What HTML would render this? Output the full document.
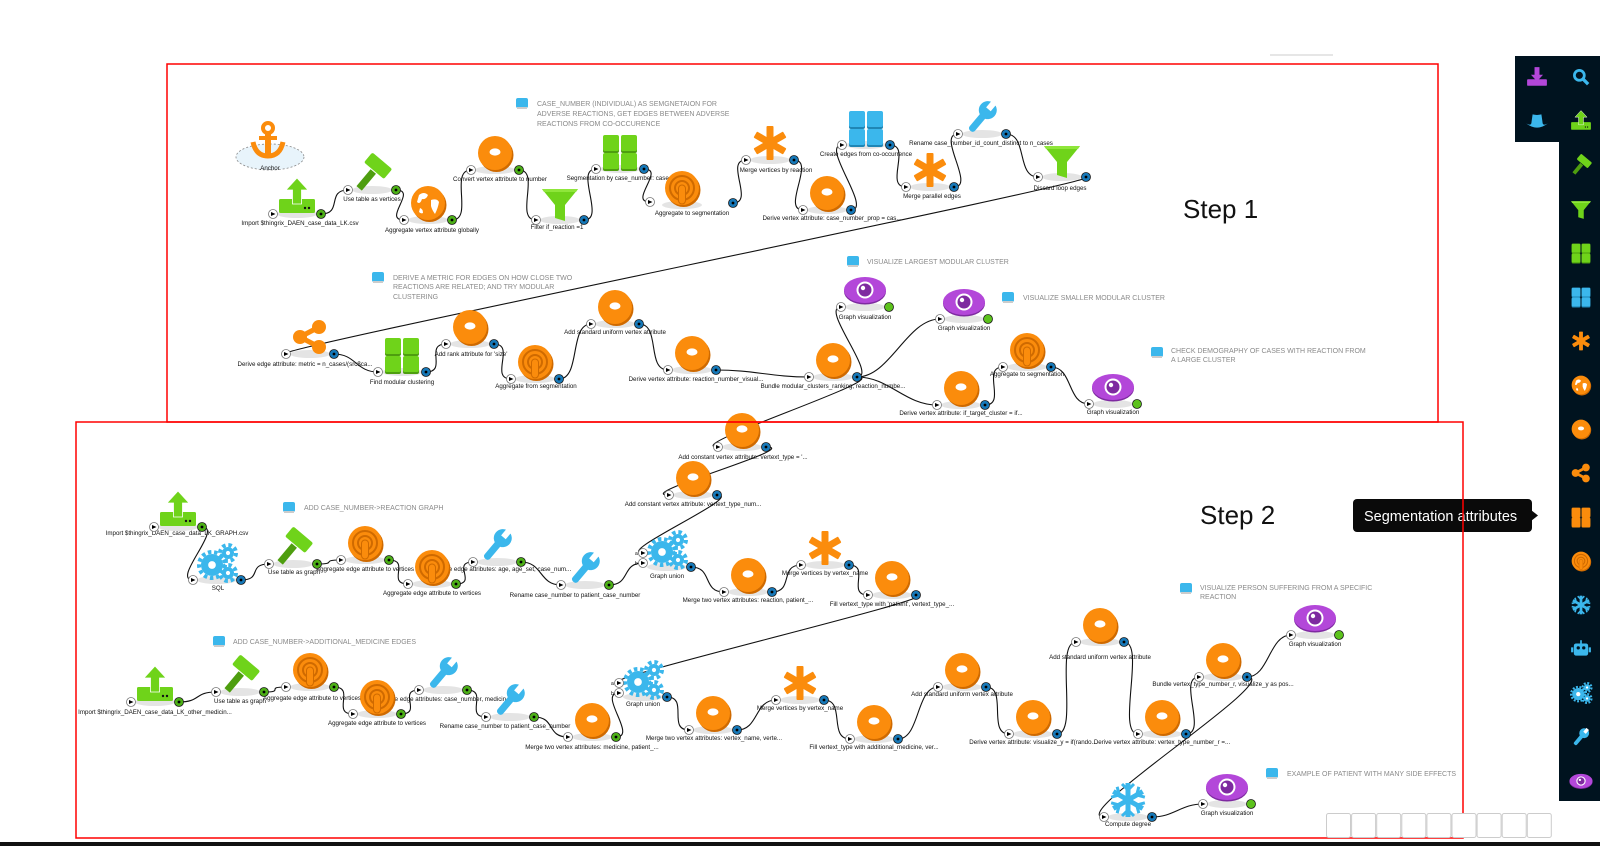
<!DOCTYPE html>
<html><head><meta charset="utf-8">
<style>
html,body{margin:0;padding:0;background:#fff;width:1600px;height:846px;overflow:hidden}
svg{display:block}
.l{font-family:"Liberation Sans",sans-serif;font-size:6.2px;fill:#111;text-anchor:middle}
.c{font-family:"Liberation Sans",sans-serif;font-size:7px;fill:#8a8a8a}
.s{font-family:"Liberation Sans",sans-serif;font-size:26px;fill:#111}
</style></head><body>
<svg id="sv" width="1600" height="846" viewBox="0 0 1600 846" xmlns="http://www.w3.org/2000/svg">
<line x1="1270" y1="55" x2="1333" y2="55" stroke="#e6e6e6" stroke-width="2"/>
<g id="edges"></g>
<g id="shadows"></g>
<g id="labels">
<text class="l" x="270" y="170">Anchor</text>
<text class="l" x="300" y="225">Import $thingrix_DAEN_case_data_LK.csv</text>
<text class="l" x="372" y="201">Use table as vertices</text>
<text class="l" x="432" y="232">Aggregate vertex attribute globally</text>
<text class="l" x="500" y="181">Convert vertex attribute to number</text>
<text class="l" x="557" y="229">Filter if_reaction =1</text>
<text class="l" x="622" y="180">Segmentation by case_number: case_...</text>
<text class="l" x="692" y="215">Aggregate to segmentation</text>
<text class="l" x="776" y="172">Merge vertices by reaction</text>
<text class="l" x="832" y="220">Derive vertex attribute: case_number_prop = cas...</text>
<text class="l" x="866" y="156">Create edges from co-occurrence</text>
<text class="l" x="932" y="198">Merge parallel edges</text>
<text class="l" x="981" y="145">Rename case_number_id_count_distinct to n_cases</text>
<text class="l" x="1060" y="190">Discard loop edges</text>

<text class="l" x="305" y="366">Derive edge attribute: metric = n_cases/(src$ca...</text>
<text class="l" x="402" y="384">Find modular clustering</text>
<text class="l" x="471" y="356">Add rank attribute for 'size'</text>
<text class="l" x="536" y="388">Aggregate from segmentation</text>
<text class="l" x="615" y="334">Add standard uniform vertex attribute</text>
<text class="l" x="696" y="381">Derive vertex attribute: reaction_number_visual...</text>
<text class="l" x="865" y="319">Graph visualization</text>
<text class="l" x="964" y="330">Graph visualization</text>
<text class="l" x="1113" y="414">Graph visualization</text>
<text class="l" x="833" y="388">Bundle modular_clusters_ranking, reaction_numbe...</text>
<text class="l" x="961" y="415">Derive vertex attribute: if_target_cluster = if...</text>
<text class="l" x="1027" y="376">Aggregate to segmentation</text>

<text class="l" x="743" y="459">Add constant vertex attribute: vertext_type = '...</text>
<text class="l" x="693" y="506">Add constant vertex attribute: vertext_type_num...</text>
<text class="l" x="177" y="535">Import $thingrix_DAEN_case_data_LK_GRAPH.csv</text>
<text class="l" x="218" y="590">SQL</text>
<text class="l" x="294" y="574">Use table as graph</text>
<text class="l" x="365" y="571">Aggregate edge attribute to vertices</text>
<text class="l" x="432" y="595">Aggregate edge attribute to vertices</text>
<text class="l" x="500" y="571">Rename edge attributes: age, age_set, case_num...</text>
<text class="l" x="575" y="597">Rename case_number to patient_case_number</text>
<text class="l" x="667" y="578">Graph union</text>
<text class="l" x="748" y="602">Merge two vertex attributes: reaction, patient_...</text>
<text class="l" x="825" y="575">Merge vertices by vertex_name</text>
<text class="l" x="892" y="606">Fill vertext_type with 'patient', vertext_type_...</text>

<text class="l" x="155" y="714">Import $thingrix_DAEN_case_data_LK_other_medicin...</text>
<text class="l" x="240" y="703">Use table as graph</text>
<text class="l" x="312" y="700">Aggregate edge attribute to vertices</text>
<text class="l" x="377" y="725">Aggregate edge attribute to vertices</text>
<text class="l" x="443" y="701">Rename edge attributes: case_number, medicin...</text>
<text class="l" x="505" y="728">Rename case_number to patient_case_number</text>
<text class="l" x="592" y="749">Merge two vertex attributes: medicine, patient_...</text>
<text class="l" x="643" y="706">Graph union</text>
<text class="l" x="714" y="740">Merge two vertex attributes: vertex_name, verte...</text>
<text class="l" x="800" y="710">Merge vertices by vertex_name</text>
<text class="l" x="874" y="749">Fill vertext_type with additional_medicine, ver...</text>
<text class="l" x="962" y="696">Add standard uniform vertex attribute</text>
<text class="l" x="1033" y="744">Derive vertex attribute: visualize_y = if(rando...</text>
<text class="l" x="1100" y="659">Add standard uniform vertex attribute</text>
<text class="l" x="1162" y="744">Derive vertex attribute: vertex_type_number_r =...</text>
<text class="l" x="1223" y="686">Bundle vertex_type_number_r, visualize_y as pos...</text>
<text class="l" x="1315" y="646">Graph visualization</text>
<text class="l" x="1128" y="826">Compute degree</text>
<text class="l" x="1227" y="815">Graph visualization</text>
</g>
<g id="comments">
<text class="c" x="537" y="106">CASE_NUMBER (INDIVIDUAL) AS SEMGNETAION FOR</text>
<text class="c" x="537" y="116">ADVERSE REACTIONS, GET EDGES BETWEEN ADVERSE</text>
<text class="c" x="537" y="126">REACTIONS FROM CO-OCCURENCE</text>
<text class="c" x="393" y="280">DERIVE A METRIC FOR EDGES ON HOW CLOSE TWO</text>
<text class="c" x="393" y="289">REACTIONS ARE RELATED; AND TRY MODULAR</text>
<text class="c" x="393" y="299">CLUSTERING</text>
<text class="c" x="867" y="264">VISUALIZE LARGEST MODULAR CLUSTER</text>
<text class="c" x="1023" y="300">VISUALIZE SMALLER MODULAR CLUSTER</text>
<text class="c" x="1171" y="353">CHECK DEMOGRAPHY OF CASES WITH REACTION FROM</text>
<text class="c" x="1171" y="362">A LARGE CLUSTER</text>
<text class="c" x="304" y="510">ADD CASE_NUMBER-&gt;REACTION GRAPH</text>
<text class="c" x="233" y="644">ADD CASE_NUMBER-&gt;ADDITIONAL_MEDICINE EDGES</text>
<text class="c" x="1200" y="590">VISUALIZE PERSON SUFFERING FROM A SPECIFIC</text>
<text class="c" x="1200" y="599">REACTION</text>
<text class="c" x="1287" y="776">EXAMPLE OF PATIENT WITH MANY SIDE EFFECTS</text>
</g>
<g id="icons"></g>
<g id="ports"></g>
<text class="s" x="1183" y="218">Step 1</text>
<text class="s" x="1200" y="524">Step 2</text>
<rect x="167" y="64" width="1271" height="358" fill="none" stroke="#f00" stroke-width="1.5"/>
<rect x="76" y="422" width="1387" height="416" fill="none" stroke="#f00" stroke-width="1.5"/>
<g id="btns"></g>
<rect x="1515" y="56" width="85" height="86" fill="#00131f"/>
<rect x="1559" y="56" width="41" height="745" fill="#00131f"/>
<g id="side"></g>
<rect x="1353" y="499" width="179" height="33" rx="4" fill="#0a0a0a"/>
<polygon points="1531,510 1538,515.5 1531,521" fill="#0a0a0a"/>
<text x="1364" y="521" style="font-family:'Liberation Sans',sans-serif;font-size:14.5px;fill:#fff">Segmentation attributes</text>
<line x1="1463" y1="499" x2="1463" y2="532" stroke="#f00" stroke-width="1.5"/>
<rect x="0" y="842" width="1600" height="4" fill="#111"/>
</svg>
<script>
var OR='#fb8c0c',ORD='#cf6a00',GR='#6fd31a',GRD='#4e9e0f',BL='#3bb7ec',BLD='#1f86b5',PU='#b347d9',PUD='#7e2aa0';
var I={
donut:function(){return '<circle r="17" cx="1.5" cy="2" fill="'+ORD+'"/><circle r="17" fill="'+OR+'"/><ellipse rx="5.5" ry="3.6" cy="-1" fill="#fff"/>'},
pod:function(){return '<circle r="17" cx="1.5" cy="2" fill="'+ORD+'"/><circle r="17" fill="'+OR+'"/><circle r="12" fill="none" stroke="'+ORD+'" stroke-width="2"/><circle r="7" fill="none" stroke="'+ORD+'" stroke-width="2"/><rect x="-3.5" y="-3" width="7" height="19" rx="3.5" fill="'+OR+'" stroke="'+ORD+'" stroke-width="1"/>'},
aster:function(){var s='';[0,60,120].forEach(function(a){s+='<rect x="-3.5" y="-17" width="7" height="34" rx="1" fill="'+OR+'" transform="rotate('+a+')"/>'});return s},
ggrid:function(){return grid(GR,GRD)},bgrid:function(){return grid(BL,BLD)},
funnel:function(){return '<polygon points="-18,-14 18,-14 5,2 5,18 -5,15 -5,2" fill="'+GR+'"/><polygon points="-18,-14 18,-14 16,-11 -16,-11" fill="#8fe63a"/>'},
upload:function(){return '<rect x="-18" y="2" width="36" height="14" rx="1.5" fill="'+GR+'"/><polygon points="0,-19 11,-7 4.5,-7 4.5,7 -4.5,7 -4.5,-7 -11,-7" fill="'+GR+'" stroke="#fff" stroke-width="0.8"/><circle cx="8" cy="11" r="1.2" fill="#111"/><circle cx="12" cy="11" r="1.2" fill="#111"/>'},
gavel:function(){return '<g transform="rotate(40)"><rect x="-3.5" y="-2" width="7" height="22" fill="'+GRD+'"/><rect x="-13" y="-16" width="26" height="13" rx="2" fill="'+GR+'"/></g>'},
globe:function(){return '<circle r="17" cx="1.5" cy="2" fill="'+ORD+'"/><circle r="17" fill="'+OR+'"/><path d="M-9,-8 q5,-4 9,0 q-2,5 -6,4 q-2,6 -5,3 z M3,-3 q6,-2 8,2 q-1,6 -4,12 q-3,-4 -4,-8 z M-8,5 q3,1 3,5 q-2,1 -4,-1z" fill="#fff"/>'},
wrench:function(){return '<g transform="rotate(40)"><rect x="-3.5" y="-6" width="7" height="24" rx="3" fill="'+BL+'"/><circle cy="-9" r="9" fill="'+BL+'"/><rect x="-3" y="-19" width="6" height="9" fill="#fff"/></g>'},
eye:function(){return '<ellipse rx="21" ry="13" cy="1.5" fill="'+PUD+'"/><ellipse rx="21" ry="13" fill="'+PU+'"/><circle r="8.5" fill="#fff"/><circle r="6.5" fill="'+PUD+'"/><circle cx="-2" cy="-2" r="2.2" fill="#fff"/>'},
cogs:function(){return cog(-5,2,11,BL)+cog(11,-10,6,BL)+cog(11,10,6,BL)},
share:function(){return '<line x1="-10" y1="0" x2="9" y2="-10" stroke="'+OR+'" stroke-width="5"/><line x1="-10" y1="0" x2="9" y2="10" stroke="'+OR+'" stroke-width="5"/><circle cx="-10" r="7" fill="'+OR+'"/><circle cx="9" cy="-10" r="7" fill="'+OR+'"/><circle cx="9" cy="10" r="7" fill="'+OR+'"/>'},
snow:function(){var s='';[0,60,120].forEach(function(a){s+='<g transform="rotate('+a+')"><rect x="-2.5" y="-17" width="5" height="34" fill="'+BL+'"/><path d="M-6,-16 L0,-10 L6,-16 M-6,16 L0,10 L6,16" stroke="'+BL+'" stroke-width="3" fill="none"/></g>'});return s+'<circle r="5" fill="'+BL+'"/>'},
anchor:function(){return '<circle cy="-12" r="5" fill="none" stroke="'+OR+'" stroke-width="4"/><rect x="-3" y="-7" width="6" height="22" fill="'+OR+'"/><rect x="-9" y="-4" width="18" height="4" fill="'+OR+'"/><path d="M-15,2 Q-12,16 0,16 Q12,16 15,2" fill="none" stroke="'+OR+'" stroke-width="5"/>'},
search:function(){return '<circle cx="-3" cy="-3" r="9" fill="none" stroke="'+BL+'" stroke-width="5"/><line x1="4" y1="4" x2="13" y2="13" stroke="'+BL+'" stroke-width="6"/>'},
download:function(){return '<rect x="-18" y="4" width="36" height="12" rx="1.5" fill="'+PU+'"/><polygon points="0,8 11,-4 4.5,-4 4.5,-18 -4.5,-18 -4.5,-4 -11,-4" fill="'+PU+'"/>'},
hat:function(){return '<path d="M-20,4 Q0,20 20,4 Q10,10 10,2 L8,-12 Q0,-10 -8,-12 L-10,2 Q-10,10 -20,4z" fill="'+BL+'"/>'},
robot:function(){return '<rect x="-13" y="-10" width="26" height="22" rx="4" fill="'+BL+'"/><rect x="-18" y="-3" width="4" height="9" fill="'+BL+'"/><rect x="14" y="-3" width="4" height="9" fill="'+BL+'"/><circle cx="-5" cy="-2" r="3" fill="#00131f"/><circle cx="5" cy="-2" r="3" fill="#00131f"/><rect x="-1.5" y="-16" width="3" height="6" fill="'+BL+'"/>'},
ogrid:function(){return grid(OR,OR)}
};
function grid(c,d){var s='';[[-17,-17],[1,-17],[-17,1],[1,1]].forEach(function(p){s+='<rect x="'+p[0]+'" y="'+(p[1]+2)+'" width="16" height="16" rx="2" fill="'+d+'"/><rect x="'+p[0]+'" y="'+p[1]+'" width="16" height="16" rx="2" fill="'+c+'"/>'});return s}
function cog(x,y,r,c){return '<circle cx="'+x+'" cy="'+y+'" r="'+(r+2)+'" fill="none" stroke="'+c+'" stroke-width="4" stroke-dasharray="3.5 2.8"/><circle cx="'+x+'" cy="'+y+'" r="'+r+'" fill="'+c+'"/><circle cx="'+x+'" cy="'+y+'" r="'+(r*0.35)+'" fill="#fff"/>'}
var N={
a1:['upload',297,197,'g'],a2:['gavel',372,173,'g'],a3:['globe',428,203,'g'],a4:['donut',495,153,'g'],a5:['funnel',560,203],a6:['ggrid',620,152],a7:['pod',682,188,null,[650,202],[733,203]],a8:['aster',770,143],a9:['donut',827,193],a10:['bgrid',866,128],a11:['aster',930,170],a12:['wrench',982,117],a13:['funnel',1062,160],
b1:['share',310,337],b2:['ggrid',402,355],b3:['donut',470,327],b4:['pod',535,362],b5:['donut',615,307],b6:['donut',692,353],b7:['donut',833,360],b8:['eye',865,290,'e'],b9:['eye',964,302,'e'],b10:['donut',961,388],b11:['pod',1027,350],b12:['eye',1113,387,'e'],
c1:['donut',742,430],c2:['donut',693,478],
d1:['upload',178,510,'g'],d2:['cogs',217,563],d3:['gavel',293,547,'g'],d4:['pod',365,543,'g'],d5:['pod',432,567,'g'],d6:['wrench',497,545,'g'],d7:['wrench',585,568,'g'],d8:['cogs',667,550,null,null,null,1],d9:['donut',748,575],d10:['aster',825,548],d11:['donut',892,578],
e1:['upload',155,685,'g'],e2:['gavel',240,675,'g'],e3:['pod',310,670,'g'],e4:['pod',377,697,'g'],e5:['wrench',443,673,'g'],e6:['wrench',510,700,'g'],e7:['donut',592,720,'g'],e8:['cogs',643,680,null,null,null,1],e9:['donut',713,713],e10:['aster',800,683],e11:['donut',874,722],e12:['donut',962,670],e13:['donut',1033,717],e14:['donut',1100,625],e15:['donut',1162,717],e16:['donut',1223,660],e17:['eye',1315,618,'e'],e18:['snow',1128,800],e19:['eye',1227,787,'e']
};
function inP(k,w){var n=N[k];if(n[6]){return w=='a'?[n[1]-24,n[2]+3]:[n[1]-24,n[2]+13]}return n[4]||[n[1]-24,n[2]+17]}
function outP(k){var n=N[k];return n[5]||[n[1]+24,n[2]+17]}
var E=['a1-a2','a2-a3','a3-a4','a4-a5','a5-a6','a6-a7','a7-a8','a8-a9','a9-a10','a10-a11','a11-a12','a12-a13','a13-b1',
'b1-b2','b2-b3','b3-b4','b4-b5','b5-b6','b6-b7','b7-b8','b7-b9','b7-b10','b10-b11','b11-b12','b7-c1','c1-c2','c2-d8a',
'd1-d2','d2-d3','d3-d4','d4-d5','d5-d6','d6-d7','d7-d8b','d8-d9','d9-d10','d10-d11','d11-e8a',
'e1-e2','e2-e3','e3-e4','e4-e5','e5-e6','e6-e7','e7-e8b','e8-e9','e9-e10','e10-e11','e11-e12','e12-e13','e13-e14','e14-e15','e15-e16','e16-e17','e16-e18','e18-e19'];
var eh='';
E.forEach(function(s){var p=s.split('-'),t=p[1],w=null;if(/[ab]$/.test(t)&&N[t.slice(0,-1)]){w=t.slice(-1);t=t.slice(0,-1)}
var o=outP(p[0]),i=inP(t,w),dx=Math.abs(i[0]-o[0]),k=Math.min(40,Math.max(22,dx*0.4));
eh+='<path d="M'+o[0]+','+o[1]+' C'+(o[0]+k)+','+o[1]+' '+(i[0]-k)+','+i[1]+' '+i[0]+','+i[1]+'" fill="none" stroke="#111" stroke-width="1.1"/>'});
document.getElementById('edges').innerHTML=eh;
var ih='',sh='',ph='';
sh+='<ellipse cx="270" cy="157" rx="34" ry="13" fill="#e8f4fb" stroke="#888" stroke-width="0.8" stroke-dasharray="2 2"/>';
ih+='<g transform="translate(268,140)">'+I.anchor()+'</g>';
function inPort(x,y){return '<circle cx="'+x+'" cy="'+y+'" r="4.5" fill="#fff" stroke="#777" stroke-width="0.8"/><polygon points="'+(x-2)+','+(y-2)+' '+(x+2.5)+','+y+' '+(x-2)+','+(y+2)+'" fill="#000"/>'}
for(var k in N){var n=N[k];
sh+='<ellipse cx="'+n[1]+'" cy="'+(n[2]+17)+'" rx="20" ry="4" fill="#e4e4e4"/>';
ih+='<g transform="translate('+n[1]+','+n[2]+')">'+I[n[0]]()+'</g>';
if(n[6]){var a=inP(k,'a'),b=inP(k,'b');ph+=inPort(a[0],a[1])+inPort(b[0],b[1]);
ph+='<text x="'+(a[0]-8)+'" y="'+(a[1]+2)+'" style="font:5px Liberation Sans,sans-serif">a</text><text x="'+(b[0]-8)+'" y="'+(b[1]+2)+'" style="font:5px Liberation Sans,sans-serif">b</text>';}
else{var q=inP(k);ph+=inPort(q[0],q[1]);}
var o=outP(k),col=n[3]=='g'?'#4caf16':(n[3]=='e'?'#5cc21c':'#1678b8');
ph+='<circle cx="'+o[0]+'" cy="'+o[1]+'" r="4.5" fill="'+col+'" stroke="#1a1a1a" stroke-width="0.8"/>';
if(n[3]!='e')ph+='<circle cx="'+o[0]+'" cy="'+o[1]+'" r="1.4" fill="#000"/>';}
// comment icons
[[522,103],[378,277],[853,261],[1008,297],[1157,352],[289,507],[219,641],[1186,588],[1272,773]].forEach(function(c){
ih+='<rect x="'+(c[0]-6)+'" y="'+(c[1]-5)+'" width="12" height="10" rx="2" fill="'+BL+'"/><rect x="'+(c[0]-5)+'" y="'+(c[1]+4)+'" width="10" height="2" fill="#ccc"/>'});
document.getElementById('shadows').innerHTML=sh;
document.getElementById('icons').innerHTML=ih;
document.getElementById('ports').innerHTML=ph;
var bh='';for(var j=0;j<9;j++){bh+='<rect x="'+(1326.5+j*25.1)+'" y="813.5" width="24" height="24" rx="2" fill="#fff" stroke="#ccc"/>'}
document.getElementById('btns').innerHTML=bh;
var sd='';
function si(n,x,y){sd+='<g transform="translate('+x+','+y+') scale(0.55)">'+I[n]()+'</g>'}
si('download',1537,77);si('search',1581,77);si('hat',1537,121);si('upload',1581,121);
['gavel','funnel','ggrid','bgrid','aster','globe','donut','share','ogrid','pod','snow','robot','cogs','wrench','eye'].forEach(function(n,i){si(n,1581,165+i*44.0)});
document.getElementById('side').innerHTML=sd;
</script>
</body></html>
